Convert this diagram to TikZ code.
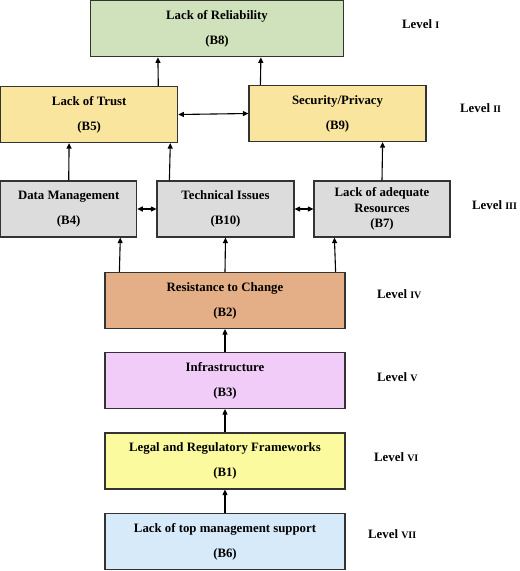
\documentclass[tikz,border=0pt]{standalone}
\usepackage{fontspec}
\setmainfont{Liberation Serif}
\usetikzlibrary{arrows.meta}

\definecolor{relgreen}{HTML}{D0E2BB}
\definecolor{trustyellow}{HTML}{F9E59D}
\definecolor{issuegrey}{HTML}{DCDCDC}
\definecolor{changeorange}{HTML}{E4AF86}
\definecolor{infrapink}{HTML}{F1CCF9}
\definecolor{legalyellow}{HTML}{FBFA9F}
\definecolor{supportblue}{HTML}{D6EAFA}

\tikzstyle{barrier}=[rectangle,
                     draw=black!80,
                     line width=1.2pt,
                     inner sep=0pt,
                     minimum height=56pt,
                     align=center,
                     font=\fontsize{12.8}{15.5}\selectfont\bfseries]
\tikzstyle{level}=[anchor=west,
                   inner sep=0pt,
                   font=\fontsize{12.8}{15}\selectfont\bfseries]
\tikzstyle{link}=[-{Triangle[length=5.5pt,width=5pt]}, line width=1.1pt]
\tikzstyle{both}=[{Triangle[length=5.5pt,width=5pt]}-{Triangle[length=5.5pt,width=5pt]}, line width=1.1pt]

\newcommand{\rnum}[1]{Level {\fontsize{10}{11}\selectfont #1}}

\begin{document}
\begin{tikzpicture}[x=1pt,y=-1pt]
    \useasboundingbox (0,0) rectangle (520,571);

    \node [barrier, fill=relgreen, minimum width=253pt] (b8) at (217,28.8) {Lack of Reliability\\[9.5pt](B8)};
    \node [barrier, fill=trustyellow, minimum width=177pt] (b5) at (89.2,114.5) {Lack of Trust\\[9.5pt](B5)};
    \node [barrier, fill=trustyellow, minimum width=177pt] (b9) at (337.5,113.5) {Security/Privacy\\[9.5pt](B9)};
    \node [barrier, fill=issuegrey, minimum width=136pt] (b4) at (68.7,209) {Data Management\\[9.5pt](B4)};
    \node [barrier, fill=issuegrey, minimum width=137pt] (b10) at (225.5,209) {Technical Issues\\[9.5pt](B10)};
    \node [barrier, fill=issuegrey, minimum width=136pt] (b7) at (382,209) {Lack of adequate\\Resources\\(B7)};
    \node [barrier, fill=changeorange, minimum width=240pt] (b2) at (225,300.5) {Resistance to Change\\[9.5pt](B2)};
    \node [barrier, fill=infrapink, minimum width=240pt] (b3) at (225,380.5) {Infrastructure\\[9.5pt](B3)};
    \node [barrier, fill=legalyellow, minimum width=240pt] (b1) at (225,461) {Legal and Regulatory Frameworks\\[9.5pt](B1)};
    \node [barrier, fill=supportblue, minimum width=240pt] (b6) at (225,541.5) {Lack of top management support\\[9.5pt](B6)};

    \node [level] (l1) at (402,24) {\rnum{I}};
    \node [level] (l2) at (460,108) {\rnum{II}};
    \node [level] (l3) at (472,205) {\rnum{III}};
    \node [level] (l4) at (377,294) {\rnum{IV}};
    \node [level] (l5) at (377,377) {\rnum{V}};
    \node [level] (l6) at (374,457) {\rnum{VI}};
    \node [level] (l7) at (368,534) {\rnum{VII}};

    \draw [link] ([xshift=-20pt]b5.north east) -- ([xshift=68pt]b8.south west);
    \draw [link] ([xshift=12pt]b9.north west) -- ([xshift=171pt]b8.south west);
    \draw [both] (b5.east) -- (b9.west);
    \draw [link] (b4.north) -- ([xshift=69pt]b5.south west);
    \draw [link] ([xshift=13pt]b10.north west) -- ([xshift=-8pt]b5.south east);
    \draw [link] (b7.north) -- ([xshift=-44pt]b9.south east);
    \draw [both] (b4.east) -- (b10.west);
    \draw [both] (b10.east) -- (b7.west);
    \draw [link] ([xshift=15pt]b2.north west) -- ([xshift=-17pt]b4.south east);
    \draw [link] (b2.north) -- (b10.south);
    \draw [link] ([xshift=-10pt]b2.north east) -- ([xshift=21pt]b7.south west);
    \draw [link] (b3.north) -- (b2.south);
    \draw [link] (b1.north) -- (b3.south);
    \draw [link] (b6.north) -- (b1.south);
\end{tikzpicture}
\end{document}
